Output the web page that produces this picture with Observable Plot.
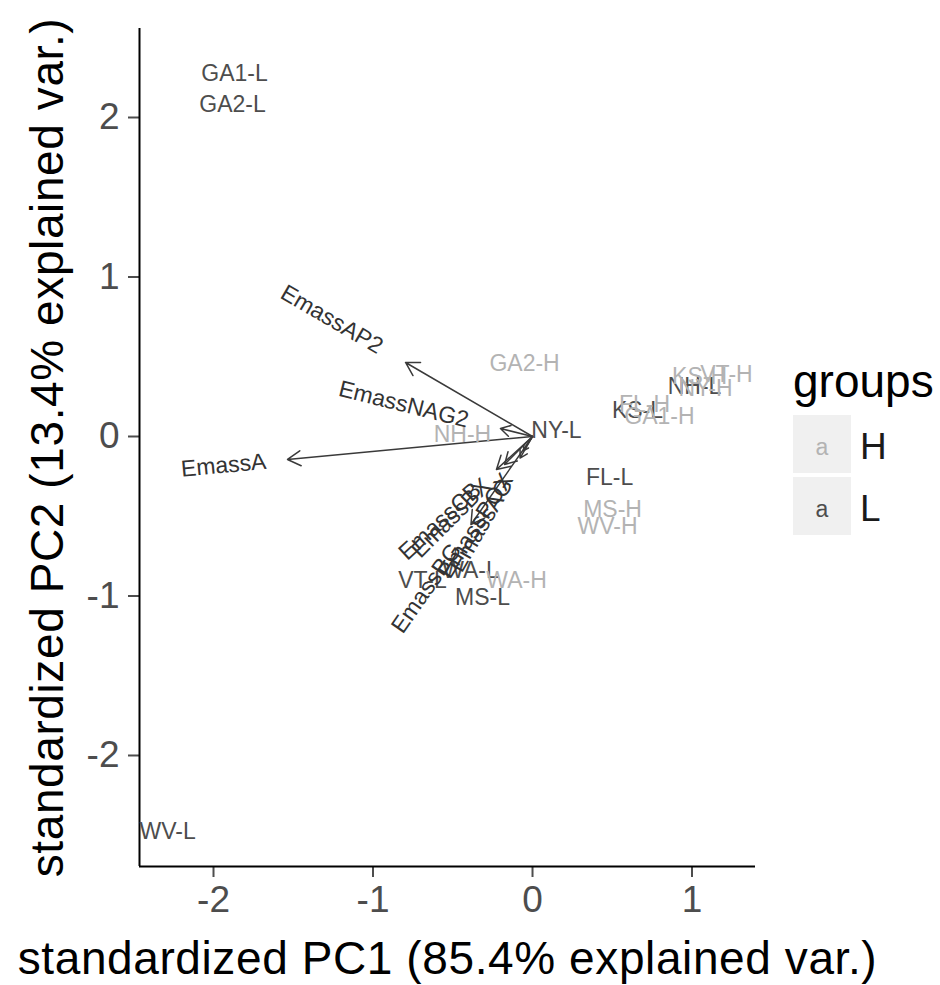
<!DOCTYPE html>
<html><head><meta charset="utf-8">
<script src="https://cdn.jsdelivr.net/npm/d3@7"></script>
<script src="https://cdn.jsdelivr.net/npm/@observablehq/plot@0.6"></script>
<style>body{margin:0;background:#fff;} #chart{width:940px;height:985px;}</style>
</head><body><div id="chart"></div>
<script>
// ---- data ----
const sampleNames = ["GA1-L","GA2-L","GA2-H","NH-H","NY-L","KS-L","NH-L","KS-H","VT-H","NY-H","FL-H","GA1-H","FL-L","MS-H","WV-H","VT-L","WA-L","WA-H","MS-L","WV-L"];
const samplePC1 = [-1.868,-1.881,-0.050,-0.439,0.150,0.658,1.016,1.047,1.216,1.085,0.702,0.796,0.483,0.502,0.470,-0.690,-0.389,-0.100,-0.313,-2.288];
const samplePC2 = [2.276,2.082,0.458,0.013,0.038,0.163,0.313,0.376,0.389,0.301,0.201,0.125,-0.257,-0.458,-0.564,-0.903,-0.840,-0.903,-1.009,-2.476];
const sampleGroup = ["L","L","H","H","L","L","L","H","H","H","H","H","L","H","H","L","L","H","L","L"];

const varNames = ["EmassA","EmassAP2","EmassNAG2","EmassBG","EmassCB","EmassBX","EmassPOX","EmassAG"];
const varPC1 = [-1.536,-0.796,-0.201,-0.386,-0.226,-0.175,-0.056,-0.078];
const varPC2 = [-0.144,0.464,0.050,-0.552,-0.207,-0.175,-0.088,-0.135];

const xTicks = [-2,-1,0,1];
const yTicks = [-2,-1,0,1,2];
const groupNames = ["H","L"];
const groupColors = ["#b3b3b3","#4d4d4d"];
const xTitle = "standardized PC1 (85.4% explained var.)";
const yTitle = "standardized PC2 (13.4% explained var.)";
const legendTitle = "groups";

// ---- layout ----
const FONT = "'Liberation Sans', Arial, sans-serif";
const W = 940, H = 985, mL = 139, mR = 185, mT = 28, mB = 119;
const xDomain = [-2.464, 1.398], yDomain = [-2.696, 2.558];
const ppu = (W - mL - mR) / (xDomain[1] - xDomain[0]);

const samples = sampleNames.map((n, i) => ({name: n, x: samplePC1[i], y: samplePC2[i], group: sampleGroup[i]}));

const ctx = document.createElement("canvas").getContext("2d");
ctx.font = "23px 'Liberation Sans'";
const vars = varNames.map((n, i) => {
  const x = varPC1[i], y = varPC2[i], len = Math.hypot(x, y);
  const w = ctx.measureText(n).width;
  const off = 0.25 * w / ppu;
  return {name: n, x0: 0, y0: 0, x, y, lx: x + x / len * off, ly: y + y / len * off,
          angle: -Math.atan(y / x) * 180 / Math.PI, neg: x < 0};
});

const plot = Plot.plot({
  width: W, height: H,
  marginLeft: mL, marginRight: mR, marginTop: mT, marginBottom: mB,
  style: {fontFamily: FONT, background: "white"},
  x: {domain: xDomain},
  y: {domain: yDomain},
  color: {domain: groupNames, range: groupColors},
  marks: [
    Plot.axisX({ticks: xTicks, tickFormat: d => String(d), tickSize: 11, tickPadding: 8, fontSize: 37, color: "#4d4d4d", strokeWidth: 2, label: null}),
    Plot.axisY({ticks: yTicks, tickFormat: d => String(d), tickSize: 11, tickPadding: 9, fontSize: 37, color: "#4d4d4d", strokeWidth: 2, label: null}),
    Plot.ruleX([xDomain[0]], {stroke: "black", strokeWidth: 2}),
    Plot.ruleY([yDomain[0]], {stroke: "black", strokeWidth: 2}),
    Plot.arrow(vars, {x1: "x0", y1: "y0", x2: "x", y2: "y", stroke: "#3a3a3a", strokeWidth: 1.5, headLength: 15, headAngle: 60}),
    Plot.text(samples, {x: "x", y: "y", text: "name", fill: "group", fontSize: 23}),
    Plot.text(vars.filter(d => d.neg), {x: "lx", y: "ly", text: "name", rotate: "angle", textAnchor: "end", fontSize: 23, fill: "#333"}),
    Plot.text(vars.filter(d => !d.neg), {x: "lx", y: "ly", text: "name", rotate: "angle", textAnchor: "start", fontSize: 23, fill: "#333"}),
    Plot.text([xTitle], {frameAnchor: "bottom", textAnchor: "middle", dy: 107, lineAnchor: "bottom", fontSize: 46, fill: "black"}),
    Plot.text([yTitle], {frameAnchor: "left", textAnchor: "middle", rotate: -90, dx: -77, lineAnchor: "bottom", fontSize: 46, fill: "black"})
  ]
});
document.getElementById("chart").appendChild(plot);

const svg = d3.select(plot);
// widen axis titles slightly to match the reference's rendering
svg.selectAll("text").filter(function() { return this.textContent === xTitle || this.textContent === yTitle; })
  .attr("letter-spacing", 0.6);

// ---- legend ----
const lg = svg.append("g").attr("font-family", FONT).attr("text-anchor", "start");
lg.append("text").attr("x", 793).attr("y", 397).attr("font-size", 46).attr("fill", "black").text(legendTitle);
groupNames.forEach((g, i) => {
  const y0 = 415 + i * 62;
  lg.append("rect").attr("x", 793).attr("y", y0).attr("width", 58).attr("height", 58).attr("fill", "#f0f0f0");
  lg.append("text").attr("x", 822).attr("y", y0 + 40).attr("text-anchor", "middle").attr("font-size", 23).attr("fill", groupColors[i]).text("a");
  lg.append("text").attr("x", 860).attr("y", y0 + 44).attr("font-size", 37).attr("fill", "#1a1a1a").text(g);
});
</script>
</body></html>
